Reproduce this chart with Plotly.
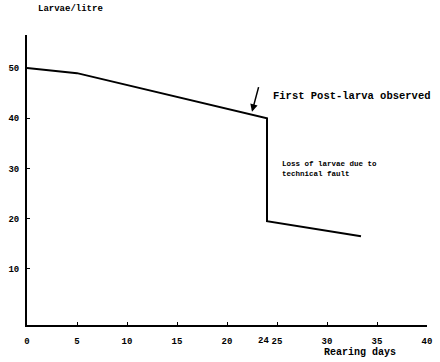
import plotly.graph_objects as go

days = [0, 5, 24, 24, 33.4]
larvae = [50, 49, 40, 19.5, 16.5]
x_tick_vals = [0, 5, 10, 15, 20, 25, 30, 35, 40]
x_tick_text = ["0", "5", "10", "15", "20", "25", "30", "35", "40"]
extra_x_tick = 24
y_tick_vals = [10, 20, 30, 40, 50]
y_tick_text = ["10", "20", "30", "40", "50"]

FONT = "Liberation Mono"

fig = go.Figure()
fig.add_trace(go.Scatter(x=days, y=larvae, mode="lines",
                         line=dict(color="black", width=2), hoverinfo="skip"))

tf = dict(family=FONT, size=9, color="black", weight="bold")
fig.update_layout(
    width=440, height=362,
    margin=dict(l=26, r=8, t=35, b=37),
    paper_bgcolor="white", plot_bgcolor="white",
    showlegend=False,
    font=dict(family=FONT, size=10, color="black"),
    xaxis=dict(range=[0, 40], tickvals=x_tick_vals, ticktext=x_tick_text,
               tickangle=0, showgrid=False, zeroline=False, showline=True,
               linecolor="black", linewidth=2, ticks="inside", ticklen=3,
               tickcolor="black", tickfont=tf, ticklabelstandoff=6, fixedrange=True),
    yaxis=dict(range=[-1.2, 56.6], tickvals=y_tick_vals, ticktext=y_tick_text,
               showgrid=False, zeroline=False, showline=True, linecolor="black",
               linewidth=2, ticks="inside", ticklen=3, tickcolor="black",
               tickfont=tf, ticklabelstandoff=4, fixedrange=True),
)

# extra "24" tick label, nudged left as in the original to avoid touching "25"
fig.add_annotation(text="<b>%d</b>" % extra_x_tick, x=extra_x_tick, xref="x",
                   yref="paper", y=0, yshift=-9, xshift=-4, xanchor="center",
                   yanchor="top", showarrow=False, font=dict(family=FONT, size=9))

fig.add_annotation(text="<b>Larvae/litre</b>", xref="paper", yref="paper",
                   x=0.022, y=1.065, xanchor="left", yanchor="bottom",
                   showarrow=False, font=dict(family=FONT, size=9))
fig.add_annotation(text="<b>First Post-larva observed</b>", x=24.4, y=44.5,
                   xanchor="left", yanchor="middle", showarrow=False,
                   font=dict(family=FONT, size=10.5))
fig.add_annotation(x=22.5, y=41.3, ax=23.2, ay=46.5, axref="x", ayref="y",
                   showarrow=True, arrowhead=2, arrowsize=1, arrowwidth=1.5,
                   arrowcolor="black", text="")
fig.add_annotation(text="<b>Loss of larvae due to<br>technical fault</b>", x=25.3, y=29.8,
                   xanchor="left", yanchor="middle", align="left", showarrow=False,
                   font=dict(family=FONT, size=7.5))
fig.add_annotation(text="<b>Rearing days</b>", xref="x", yref="paper",
                   x=29.5, y=-0.07, xanchor="left", yanchor="top",
                   showarrow=False, font=dict(family=FONT, size=10))

fig.write_html("out.html")
